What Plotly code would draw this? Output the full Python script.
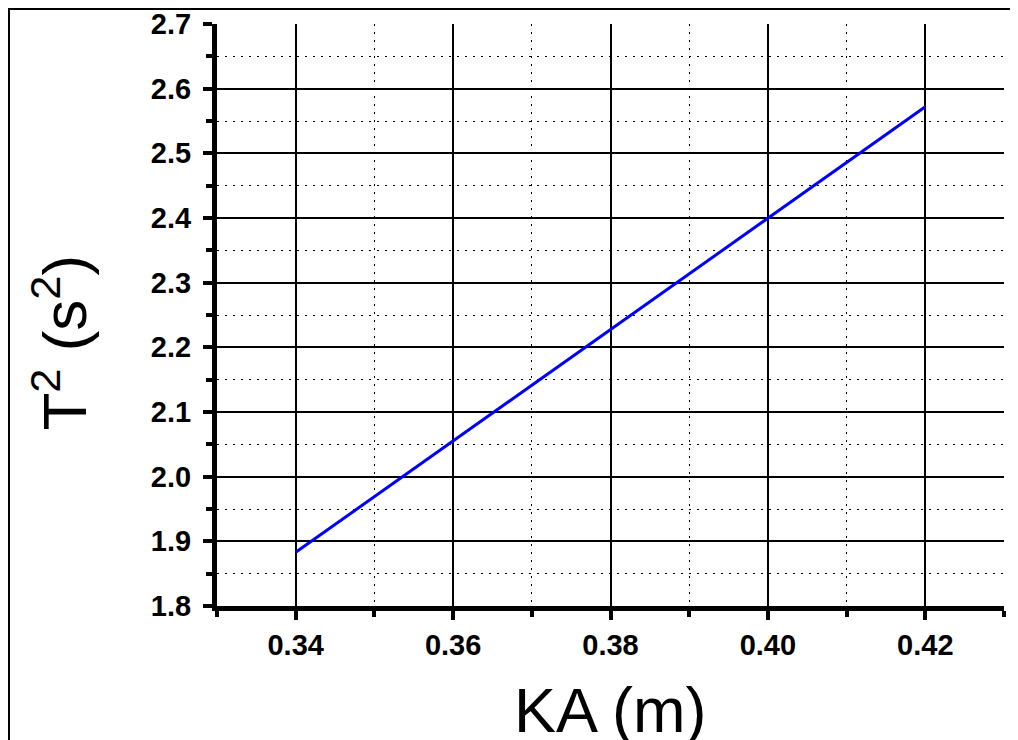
import plotly.graph_objects as go

ka_m = [0.34, 0.36, 0.38, 0.40, 0.42]
t2_s2 = [1.883, 2.055, 2.228, 2.400, 2.572]

x_title = "KA (m)"
y_title = "T<sup>2</sup> (s<sup>2</sup>)"

fig = go.Figure()
fig.add_trace(go.Scatter(x=ka_m, y=t2_s2, mode="lines",
                         line=dict(color="#0000ff", width=3), showlegend=False))

axis_common = dict(
    showline=True, linecolor="black", linewidth=5,
    ticks="outside", ticklen=9, tickwidth=4, tickcolor="black",
    showgrid=True, gridcolor="black", gridwidth=1.8,
    zeroline=False, ticklabeloverflow="allow", automargin=False,
    tickfont=dict(family="Arial, Liberation Sans", size=29, color="black", weight="bold"),
)

minor_common = dict(ticks="outside", ticklen=6, tickwidth=4, tickcolor="black",
                    showgrid=True, gridcolor="black", gridwidth=1.3,
                    griddash="2px,6px")

fig.update_xaxes(
    range=[0.33, 0.43], tick0=0.34, dtick=0.02, tickformat=".2f",
    minor=dict(tick0=0.33, dtick=0.01, **minor_common),
    **axis_common,
)
fig.update_yaxes(
    range=[1.8, 2.7], tick0=1.8, dtick=0.1, tickformat=".1f",
    ticklabelstandoff=6,
    minor=dict(tick0=1.8, dtick=0.05, **minor_common),
    **axis_common,
)

fig.add_annotation(text=y_title, xref="paper", yref="paper", x=-0.200, y=0.452,
                   textangle=-90, showarrow=False, xanchor="center", yanchor="middle",
                   font=dict(family="Arial, Liberation Sans", size=62, color="black"))
fig.add_annotation(text=x_title, xref="paper", yref="paper", x=0.5, y=-0.1154,
                   showarrow=False, xanchor="center", yanchor="top",
                   font=dict(family="Arial, Liberation Sans", size=63, color="black"))

fig.add_shape(type="rect", xref="paper", yref="paper",
              x0=-0.2643, x1=1.1, y0=-0.5, y1=1.0258,
              line=dict(color="black", width=2), fillcolor="rgba(0,0,0,0)", layer="below")

fig.update_layout(
    width=1018, height=740,
    margin=dict(l=209, r=22, t=16, b=142),
    paper_bgcolor="white", plot_bgcolor="white",
)

fig.write_html("out.html")
